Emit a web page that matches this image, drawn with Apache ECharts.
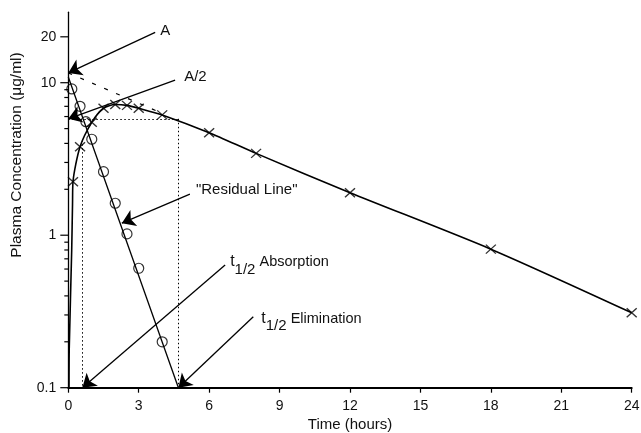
<!DOCTYPE html>
<html>
<head>
<meta charset="utf-8">
<script src="https://cdn.jsdelivr.net/npm/echarts@6/dist/echarts.min.js"></script>
<style>
html,body{margin:0;padding:0;background:#fff;}
#c{width:641px;height:433px;}
</style>
</head>
<body>
<div id="c"></div>
<script>
// ---- data ----
// observed plasma concentrations (x markers)
const obsT = [0.2, 0.5, 1, 1.5, 2, 2.5, 3, 4, 6, 8, 12, 18, 24];
const obsC = [2.24, 3.8, 5.5, 6.8, 7.2, 7.1, 6.8, 6.15, 4.7, 3.44, 1.9, 0.81, 0.31];
// fitted curve through the observations (incl. the steep initial rise)
const fitT = [0.03, 0.04, 0.145, 0.18, 0.2, 0.5, 1, 1.5, 2, 2.5, 3, 4, 6, 8, 12, 18, 24];
const fitC = [0.1, 0.18, 0.8, 1.6, 2.24, 3.8, 5.5, 6.8, 7.2, 7.1, 6.8, 6.15, 4.7, 3.44, 1.9, 0.81, 0.31];
// residual values (circles)
const resT = [0.15, 0.5, 0.75, 1, 1.5, 2, 2.5, 3, 4];
const resC = [9.1, 7.0, 5.55, 4.26, 2.61, 1.62, 1.02, 0.607, 0.2];
// residual line end points
const resLineT = [0, 4.69];
const resLineC = [10.9, 0.1];
// back-extrapolated elimination line (dashed)
const extT = [0, 4];
const extC = [11.6, 6.3];
// key values
const A = 11.6;
const halfA = 5.8;
const tHalfAbs = 0.6;
const tHalfElim = 4.69;
// axis ticks
const xTicks = [0, 3, 6, 9, 12, 15, 18, 21, 24];
const yLabels = [0.1, 1, 10, 20];
const yMinor = [0.2, 0.3, 0.4, 0.5, 0.6, 0.7, 0.8, 0.9, 2, 3, 4, 5, 6, 7, 8, 9];

const FONT = '"Liberation Sans", Arial, Helvetica, sans-serif';
const zip = (a, b) => a.map((v, i) => [v, b[i]]);

const chart = echarts.init(document.getElementById('c'), null, {renderer: 'canvas'});

const arrowLine = (from, to) => [{coord: from}, {coord: to}];
const labelPt = (coord, text, dist, offset) => ({
  coord: coord, symbol: 'circle', symbolSize: 0.1,
  itemStyle: {color: 'transparent'},
  label: {show: true, position: 'right', distance: dist, offset: offset, formatter: text}
});

const option = {
  backgroundColor: '#fff',
  animation: false,
  textStyle: {fontFamily: FONT, color: '#111'},
  grid: {left: 68.3, right: 9.3, top: 12.2, bottom: 45.3, containLabel: false, outerBoundsMode: 'none'},
  xAxis: {
    type: 'value', min: xTicks[0], max: xTicks[xTicks.length - 1], interval: 3,
    name: 'Time (hours)', nameLocation: 'middle', nameGap: 24,
    nameTextStyle: {fontFamily: FONT, fontSize: 15, color: '#111'},
    axisLine: {show: true, lineStyle: {color: '#000', width: 2}},
    axisTick: {show: true, length: 5, lineStyle: {color: '#000', width: 1.2}},
    axisLabel: {fontFamily: FONT, fontSize: 14, color: '#111', margin: 11},
    splitLine: {show: false}
  },
  yAxis: {
    type: 'log', logBase: 10, min: 0.1, max: 29, position: 'left',
    splitLine: {show: false},
    axisLine: {show: true, lineStyle: {color: '#000', width: 1.3}},
    axisTick: {show: false},
    axisLabel: {show: true, customValues: yLabels, fontFamily: FONT, fontSize: 14, color: '#111', margin: 12,
      formatter: v => String(v)}
  },
  graphic: [{
    type: 'text', x: 17, y: 155, rotation: Math.PI / 2,
    style: {text: 'Plasma Concentration (\u03bcg/ml)', font: '15.5px ' + FONT, fill: '#111',
      textAlign: 'center', textVerticalAlign: 'middle'}
  }],
  series: [
    {
      // y-axis tick marks (major + minor), placed through the axis scale
      name: 'yticks', type: 'custom', silent: true, clip: false, z: 10,
      data: yLabels.concat(yMinor).map(v => [xTicks[0], v]),
      encode: {x: 0, y: 1},
      renderItem: (params, api) => {
        const v = api.value(1);
        const p = api.coord([api.value(0), v]);
        const len = yLabels.indexOf(v) >= 0 ? 8 : 4;
        return {type: 'line', shape: {x1: p[0] - len, y1: p[1], x2: p[0], y2: p[1]},
          style: {stroke: '#000', lineWidth: 1.2}};
      }
    },
    {
      name: 'fit', type: 'line', data: zip(fitT, fitC), smooth: 0.25, showSymbol: false, symbol: 'none',
      lineStyle: {color: '#000', width: 1.6}, z: 3
    },
    {
      name: 'observed', type: 'scatter', data: zip(obsT, obsC),
      symbol: 'path://M0,0L10,10M10,0L0,10', symbolSize: [10, 9],
      itemStyle: {color: 'transparent', borderColor: '#000', borderWidth: 1.3}, z: 4
    },
    {
      name: 'residual line', type: 'line', data: zip(resLineT, resLineC), showSymbol: false, symbol: 'none',
      lineStyle: {color: '#000', width: 1.3}, z: 3,
      markLine: {
        silent: true, symbol: ['none', 'arrow'], symbolSize: 13,
        lineStyle: {color: '#000', width: 1.3, type: 'solid'},
        itemStyle: {color: '#000'},
        label: {show: false},
        data: [
          arrowLine([3.7, 21.4], [0, A]),
          arrowLine([4.55, 10.4], [0, halfA]),
          arrowLine([5.18, 1.86], [2.28, 1.2]),
          arrowLine([6.68, 0.638], [tHalfAbs, 0.1]),
          arrowLine([7.88, 0.292], [tHalfElim, 0.1])
        ]
      },
      markPoint: {
        silent: true,
        label: {fontFamily: FONT, fontSize: 15, color: '#111'},
        data: [
          labelPt([3.7, 21.4], 'A', 5, [0, -1]),
          labelPt([4.55, 10.4], 'A/2', 9, [0, -3]),
          labelPt([5.18, 1.86], '"Residual Line"', 6, [0, -4]),
          labelPt([6.68, 0.638], '{t|t}{s|1/2}{a| Absorption}', 5, [0, -3]),
          labelPt([7.88, 0.292], '{t|t}{s|1/2}{a| Elimination}', 8, [0, 2])
        ]
      }
    },
    {
      name: 'residual', type: 'scatter', data: zip(resT, resC),
      symbol: 'circle', symbolSize: 10,
      itemStyle: {color: 'transparent', borderColor: '#000', borderWidth: 1.2}, z: 4
    },
    {
      name: 'extrapolated', type: 'line', data: zip(extT, extC), showSymbol: false, symbol: 'none',
      lineStyle: {color: '#000', width: 1.2, type: [4, 9]}, z: 2,
      markLine: {
        silent: true, symbol: ['none', 'none'],
        lineStyle: {color: '#000', width: 1, type: [1.5, 2.5]},
        label: {show: false},
        data: [
          [{coord: [0, halfA]}, {coord: [tHalfElim, halfA]}],
          [{coord: [tHalfElim, halfA]}, {coord: [tHalfElim, 0.1]}],
          [{coord: [tHalfAbs, 4.2]}, {coord: [tHalfAbs, 0.1]}]
        ]
      }
    }
  ]
};

// rich text styling for the half-life labels
option.series[3].markPoint.data.forEach(d => {
  d.label.rich = {
    t: {fontFamily: FONT, fontSize: 16, lineHeight: 30, verticalAlign: 'middle', color: '#111'},
    s: {fontFamily: FONT, fontSize: 15, lineHeight: 15, verticalAlign: 'bottom', color: '#111'},
    a: {fontFamily: FONT, fontSize: 14.5, lineHeight: 15, verticalAlign: 'middle', color: '#111'}
  };
});

chart.setOption(option);
</script>
</body>
</html>
